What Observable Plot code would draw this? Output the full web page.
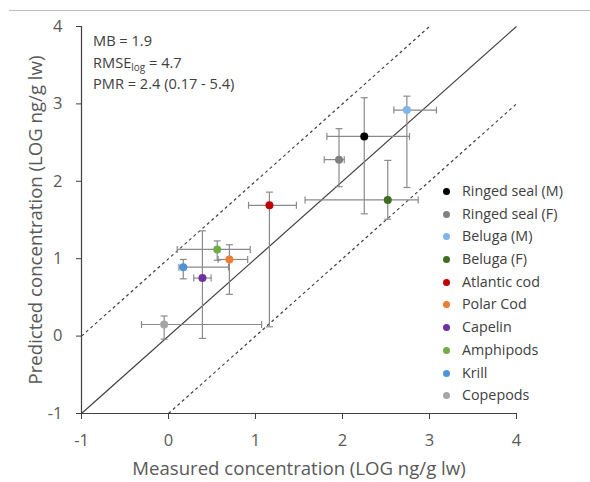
<!DOCTYPE html>
<html>
<head>
<meta charset="utf-8">
<script src="https://cdn.jsdelivr.net/npm/d3@7"></script>
<script src="https://cdn.jsdelivr.net/npm/@observablehq/plot@0.6"></script>
<style>
  body { margin: 0; background: #fff; font-family: "Open Sans", sans-serif; }
  #wrap { position: relative; width: 590px; height: 482px; }
  #topline { position: absolute; left: 9px; top: 10px; width: 581px; border-top: 1px solid #bfbfbf; }
  #stats { position: absolute; left: 93px; top: 30px; font-size: 14.6px; line-height: 21.5px; color: #404040; }
  #stats sub { font-size: 10px; vertical-align: -3px; line-height: 0; }
  #legend { position: absolute; left: 443px; top: 180px; font-size: 14.3px; color: #404040; }
  .li { height: 22.7px; line-height: 22.7px; white-space: nowrap; }
  .sw { display: inline-block; width: 7px; height: 7px; border-radius: 50%; margin-right: 12px; vertical-align: 1px; }
</style>
</head>
<body>
<div id="wrap">
  <div id="chart"></div>
  <div id="topline"></div>
  <div id="stats"></div>
  <div id="legend"></div>
</div>
<script>
// ---- data ----
const species = ["Ringed seal (M)", "Ringed seal (F)", "Beluga (M)", "Beluga (F)", "Atlantic cod", "Polar Cod", "Capelin", "Amphipods", "Krill", "Copepods"];
const colors = ["#000000", "#808080", "#7fb5ea", "#3f6e21", "#c00000", "#ed7d31", "#7030a0", "#70ad47", "#4f94d6", "#a6a6a6"];
const measured = [2.25, 1.96, 2.74, 2.52, 1.16, 0.70, 0.39, 0.56, 0.17, -0.05];
const measuredLow = [1.82, 1.79, 2.59, 1.57, 0.92, 0.57, 0.29, 0.10, 0.12, -0.31];
const measuredHigh = [2.77, 2.02, 3.08, 2.87, 1.47, 0.91, 0.49, 0.94, 0.69, 1.07];
const predicted = [2.58, 2.28, 2.92, 1.76, 1.69, 0.99, 0.75, 1.12, 0.89, 0.15];
const predictedLow = [1.58, 1.93, 1.92, 1.51, 0.12, 0.54, -0.03, 0.98, 0.74, -0.04];
const predictedHigh = [3.08, 2.68, 3.10, 2.27, 1.86, 1.18, 1.36, 1.23, 0.99, 0.26];
const tickValues = [-1, 0, 1, 2, 3, 4];
const oneToOne = [-1, 4];
const factorOffset = 1; // dashed lines: factor of 10 above/below
const statsLines = ["MB = 1.9", "RMSE<sub>log</sub> = 4.7", "PMR = 2.4 (0.17 - 5.4)"];
const xTitle = "Measured concentration (LOG ng/g lw)";
const yTitle = "Predicted concentration (LOG ng/g lw)";

const rows = species.map((s, i) => ({
  species: s, color: colors[i],
  x: measured[i], x1: measuredLow[i], x2: measuredHigh[i],
  y: predicted[i], y1: predictedLow[i], y2: predictedHigh[i]
}));

const lineRows = [
  {kind: "1:1", x1: oneToOne[0], y1: oneToOne[0], x2: oneToOne[1], y2: oneToOne[1]},
  {kind: "up", x1: oneToOne[0], y1: oneToOne[0] + factorOffset, x2: oneToOne[1] - factorOffset, y2: oneToOne[1]},
  {kind: "down", x1: oneToOne[0] + factorOffset, y1: oneToOne[0], x2: oneToOne[1], y2: oneToOne[1] - factorOffset}
];

const vcap = { draw(ctx, size) { const r = Math.sqrt(size / Math.PI); ctx.moveTo(0, -r); ctx.lineTo(0, r); } };
const hcap = { draw(ctx, size) { const r = Math.sqrt(size / Math.PI); ctx.moveTo(-r, 0); ctx.lineTo(r, 0); } };

const barColor = "#8a8a8a";
const axisColor = "#404040";
const textColor = "#595959";
const fmt = d => d < 0 ? "-" + Math.abs(d) : String(d);

const chart = Plot.plot({
  width: 590, height: 482,
  marginLeft: 81, marginRight: 74, marginTop: 26, marginBottom: 69,
  x: {domain: [-1, 4]},
  y: {domain: [-1, 4]},
  style: {fontFamily: "'Open Sans', sans-serif", background: "transparent"},
  marks: [
    Plot.link(lineRows.filter(d => d.kind === "1:1"), {x1: "x1", y1: "y1", x2: "x2", y2: "y2", stroke: axisColor, strokeWidth: 1.2}),
    Plot.link(lineRows.filter(d => d.kind !== "1:1"), {x1: "x1", y1: "y1", x2: "x2", y2: "y2", stroke: axisColor, strokeWidth: 1.2, strokeDasharray: "3,3"}),
    // horizontal error bars
    Plot.link(rows, {x1: "x1", x2: "x2", y1: "y", y2: "y", stroke: barColor, strokeWidth: 1.2}),
    Plot.dot(rows, {x: "x1", y: "y", symbol: vcap, r: 3.5, stroke: barColor, strokeWidth: 1.2, fill: "none"}),
    Plot.dot(rows, {x: "x2", y: "y", symbol: vcap, r: 3.5, stroke: barColor, strokeWidth: 1.2, fill: "none"}),
    // vertical error bars
    Plot.link(rows, {x1: "x", x2: "x", y1: "y1", y2: "y2", stroke: barColor, strokeWidth: 1.2}),
    Plot.dot(rows, {x: "x", y: "y1", symbol: hcap, r: 3.5, stroke: barColor, strokeWidth: 1.2, fill: "none"}),
    Plot.dot(rows, {x: "x", y: "y2", symbol: hcap, r: 3.5, stroke: barColor, strokeWidth: 1.2, fill: "none"}),
    // points
    Plot.dot(rows, {x: "x", y: "y", r: 4, fill: d => d.color, stroke: "none"}),
    // axes
    Plot.ruleX([tickValues[0]], {stroke: axisColor, strokeWidth: 1.2}),
    Plot.ruleY([tickValues[0]], {stroke: axisColor, strokeWidth: 1.2}),
    Plot.axisX({ticks: tickValues, tickSize: 6, tickPadding: 15, fontSize: 16.5, color: textColor, stroke: axisColor, label: null, tickFormat: fmt}),
    Plot.axisY({ticks: tickValues, tickSize: 5, tickPadding: 14, fontSize: 16.5, color: textColor, stroke: axisColor, label: null, tickFormat: fmt}),
    Plot.text([xTitle], {text: d => d, frameAnchor: "bottom", dy: 61, fontSize: 18.6, fill: textColor}),
    Plot.text([yTitle], {text: d => d, frameAnchor: "left", textAnchor: "middle", dx: -45, rotate: -90, fontSize: 18.6, fill: textColor})
  ]
});
document.getElementById("chart").appendChild(chart);

document.getElementById("stats").innerHTML = statsLines.map(s => `<div>${s}</div>`).join("");
document.getElementById("legend").innerHTML = species.map((s, i) =>
  `<div class="li"><span class="sw" style="background:${colors[i]}"></span>${s}</div>`).join("");
</script>
</body>
</html>
